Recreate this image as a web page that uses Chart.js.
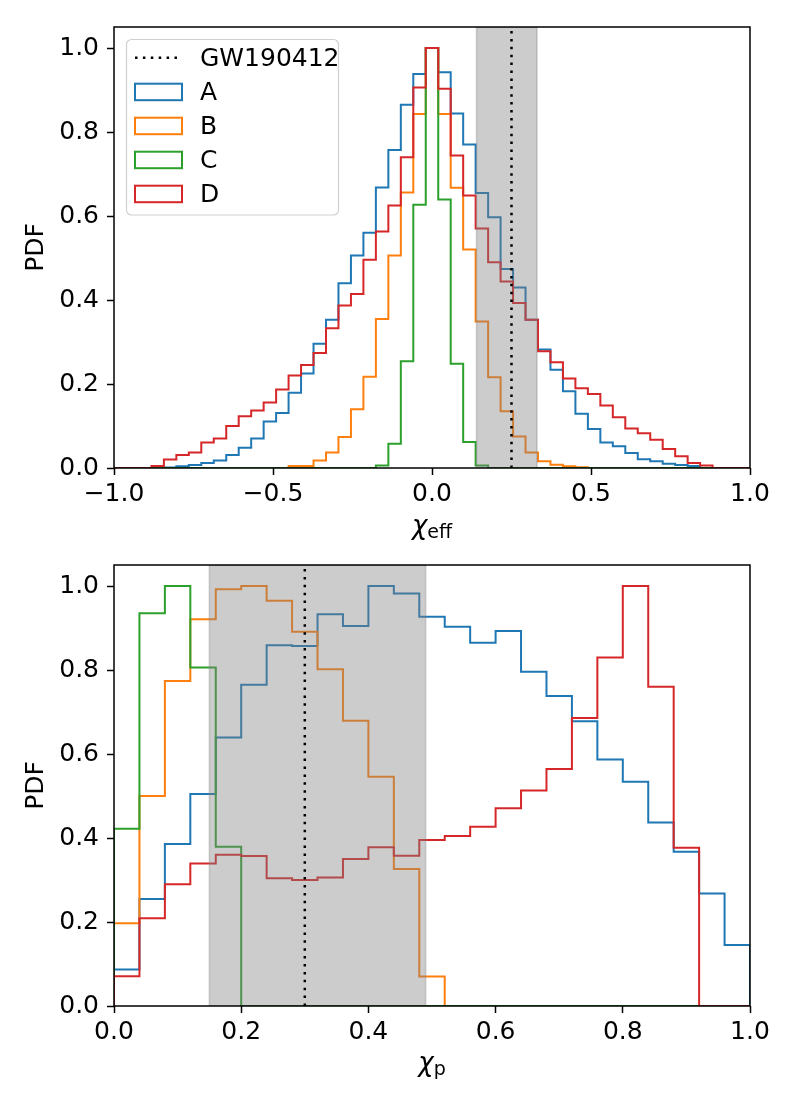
<!DOCTYPE html>
<html>
<head>
<meta charset="utf-8">
<script src="https://cdn.jsdelivr.net/npm/chart.js@4.4.1/dist/chart.umd.min.js"></script>
<style>
  html, body { margin: 0; padding: 0; background: #fff; }
  #wrap { position: relative; width: 798px; height: 1106px; }
  canvas { position: absolute; left: 0; }
  #top { top: 0; }
  #bottom { top: 540px; }
</style>
</head>
<body>
<div id="wrap">
  <canvas id="top" width="798" height="553"></canvas>
  <canvas id="bottom" width="798" height="566"></canvas>
</div>
<script>
// series
const seriesNames = ['A', 'B', 'C', 'D'];
const seriesColors = ['#1f77b4', '#ff7f0e', '#2ca02c', '#d62728'];

// chi_eff histogram: 51 bins over [-1, 1]
const chiEffRange = [-1, 1];
const chiEffA = [0, 0, 0,
  0, 0.001, 0.004, 0.007, 0.012, 0.018, 0.031, 0.048, 0.07, 0.111, 0.131, 0.179, 0.225, 0.296, 0.353,
  0.44, 0.506, 0.56, 0.668, 0.757, 0.865, 0.938, 1.0, 0.942, 0.844, 0.77, 0.655, 0.597, 0.474, 0.43,
  0.353, 0.282, 0.234, 0.183, 0.129, 0.093, 0.061, 0.052, 0.036, 0.021, 0.016, 0.01, 0.007, 0.005, 0,
  0, 0, 0];
const chiEffB = [0, 0, 0,
  0, 0, 0, 0, 0, 0, 0, 0, 0, 0, 0, 0.005, 0.005, 0.018, 0.037,
  0.074, 0.14, 0.217, 0.355, 0.506, 0.656, 0.843, 1.0, 0.843, 0.667, 0.52, 0.349, 0.216, 0.135, 0.075,
  0.037, 0.016, 0.008, 0.004, 0.002, 0, 0, 0, 0, 0, 0, 0, 0, 0, 0,
  0, 0, 0];
const chiEffC = [0, 0, 0,
  0, 0, 0, 0, 0, 0, 0, 0, 0, 0, 0, 0, 0, 0, 0,
  0, 0, 0, 0.006, 0.058, 0.254, 0.627, 1.0, 0.639, 0.248, 0.062, 0.006, 0, 0, 0,
  0, 0, 0, 0, 0, 0, 0, 0, 0, 0, 0, 0, 0, 0, 0,
  0, 0, 0];
const chiEffD = [0, 0, 0,
  0.005, 0.02, 0.031, 0.037, 0.061, 0.07, 0.10, 0.123, 0.137, 0.156, 0.187, 0.22, 0.245, 0.274, 0.333,
  0.387, 0.414, 0.496, 0.563, 0.625, 0.74, 0.906, 1.0, 0.903, 0.744, 0.649, 0.57, 0.49, 0.444, 0.393,
  0.353, 0.278, 0.252, 0.213, 0.19, 0.176, 0.149, 0.121, 0.094, 0.083, 0.067, 0.045, 0.028, 0.012, 0.006,
  0, 0, 0];
const chiEffTicks = [-1, -0.5, 0, 0.5, 1];
// GW190412: lower, median, upper
const gwChiEff = [0.14, 0.25, 0.33];

// chi_p histogram: 25 bins over [0, 1]
const chiPRange = [0, 1];
const chiPA = [0.087, 0.255, 0.386, 0.505, 0.639, 0.765, 0.859, 0.857, 0.933, 0.905, 1.0, 0.982, 0.927,
  0.903, 0.865, 0.893, 0.796, 0.738, 0.678, 0.587, 0.534, 0.437, 0.367, 0.268, 0.145];
const chiPB = [0.197, 0.5, 0.774, 0.921, 0.992, 1.0, 0.965, 0.891, 0.802, 0.679, 0.546, 0.326, 0.07,
  0, 0, 0, 0, 0, 0, 0, 0, 0, 0, 0, 0];
const chiPC = [0.422, 0.935, 1.0, 0.806, 0.379, 0, 0, 0, 0, 0, 0, 0, 0,
  0, 0, 0, 0, 0, 0, 0, 0, 0, 0, 0, 0];
const chiPD = [0.071, 0.209, 0.29, 0.339, 0.36, 0.357, 0.304, 0.3, 0.306, 0.35, 0.378, 0.358, 0.395,
  0.405, 0.427, 0.471, 0.513, 0.564, 0.686, 0.83, 1.0, 0.76, 0.377, 0, 0];
const chiPTicks = [0, 0.2, 0.4, 0.6, 0.8, 1];
const gwChiP = [0.15, 0.30, 0.49];

const pdfTicks = [0, 0.2, 0.4, 0.6, 0.8, 1];
const pdfMax = 1.05;

Chart.defaults.font.family = '"DejaVu Sans", sans-serif';
Chart.defaults.font.size = 25;
Chart.defaults.color = '#000';

// step outline like histtype='step'
function histOutline(values, range) {
  const n = values.length;
  const w = (range[1] - range[0]) / n;
  const pts = [{ x: range[0], y: 0 }];
  values.forEach((v, i) => {
    pts.push({ x: range[0] + i * w, y: v });
    pts.push({ x: range[0] + (i + 1) * w, y: v });
  });
  pts.push({ x: range[1], y: 0 });
  return pts;
}

function fmt(v) {
  return v.toFixed(1).replace('-', '\u2212');
}

// frame, axis labels and legend
const decorPlugin = {
  id: 'decor',
  afterDatasetsDraw(chart, args, o) {
    const { ctx, chartArea: a } = chart;
    ctx.save();
    ctx.strokeStyle = '#000';
    ctx.lineWidth = 1.5;
    ctx.strokeRect(a.left, a.top, a.right - a.left, a.bottom - a.top);

    // x label: chi with subscript
    ctx.fillStyle = '#000';
    ctx.textBaseline = 'alphabetic';
    ctx.textAlign = 'left';
    const bigFont = 'italic 26px "DejaVu Sans"';
    const subFont = '19px "DejaVu Sans"';
    ctx.font = bigFont;
    const w1 = ctx.measureText('\u03c7').width;
    ctx.font = subFont;
    const w2 = ctx.measureText(o.sub).width;
    const x0 = (a.left + a.right) / 2 - (w1 + w2) / 2;
    ctx.font = bigFont;
    ctx.fillText('\u03c7', x0, a.bottom + o.labelDy);
    ctx.font = subFont;
    ctx.fillText(o.sub, x0 + w1, a.bottom + o.labelDy + 4);

    // y label
    ctx.save();
    ctx.translate(43, (a.top + a.bottom) / 2);
    ctx.rotate(-Math.PI / 2);
    ctx.textAlign = 'center';
    ctx.font = '25px "DejaVu Sans"';
    ctx.fillText('PDF', 0, 0);
    ctx.restore();

    if (o.legend) {
      const bx = 126.5, by = 39.5, bw = 212, bh = 175.5;
      ctx.beginPath();
      ctx.roundRect(bx, by, bw, bh, 5);
      ctx.fillStyle = 'rgba(255,255,255,0.8)';
      ctx.fill();
      ctx.strokeStyle = '#d0d0d0';
      ctx.lineWidth = 1.2;
      ctx.stroke();

      ctx.font = '25px "DejaVu Sans"';
      ctx.fillStyle = '#000';
      const labels = ['GW190412'].concat(seriesNames);
      labels.forEach((lab, i) => {
        const base = 66.3 + i * 34;
        const cy = base - 8.6;
        if (i === 0) {
          ctx.save();
          ctx.strokeStyle = '#000';
          ctx.lineWidth = 2.5;
          ctx.setLineDash([2.5, 5.4]);
          ctx.beginPath();
          ctx.moveTo(135, cy);
          ctx.lineTo(182, cy);
          ctx.stroke();
          ctx.restore();
        } else {
          ctx.strokeStyle = seriesColors[i - 1];
          ctx.lineWidth = 2;
          ctx.strokeRect(135, cy - 8, 47, 16.5);
        }
        ctx.fillStyle = '#000';
        ctx.fillText(lab, 200, base);
      });
    }
    ctx.restore();
  }
};

function makeChart(id, range, series, ticks, gw, padTop, xHeight, sub, labelDy, legend) {
  const datasets = series.map((vals, i) => ({
    label: seriesNames[i],
    data: histOutline(vals, range),
    borderColor: seriesColors[i],
    borderWidth: 2,
    pointRadius: 0,
    fill: false,
    tension: 0,
    order: 5 - i
  }));
  datasets.push({
    label: 'band',
    data: [{ x: gw[0], y: 0 }, { x: gw[0], y: pdfMax }, { x: gw[2], y: pdfMax }, { x: gw[2], y: 0 }],
    borderColor: 'rgba(128,128,128,0.4)',
    backgroundColor: 'rgba(128,128,128,0.4)',
    borderWidth: 1.5,
    pointRadius: 0,
    fill: 'origin',
    order: 1
  });
  datasets.push({
    label: 'GW190412',
    data: [{ x: gw[1], y: 0 }, { x: gw[1], y: pdfMax }],
    borderColor: '#000',
    borderWidth: 2.5,
    borderDash: [2.5, 5.4],
    pointRadius: 0,
    fill: false,
    order: 0
  });

  return new Chart(document.getElementById(id), {
    type: 'line',
    data: { datasets },
    plugins: [decorPlugin],
    options: {
      responsive: false,
      animation: false,
      events: [],
      layout: { padding: { left: 0, right: 48, top: padTop, bottom: 0 } },
      plugins: {
        legend: { display: false },
        tooltip: { enabled: false },
        decor: { sub, labelDy, legend }
      },
      scales: {
        x: {
          type: 'linear',
          min: range[0],
          max: range[1],
          afterBuildTicks: s => { s.ticks = ticks.map(v => ({ value: v })); },
          afterFit: s => { s.height = xHeight; },
          ticks: { callback: v => fmt(v), padding: 4, maxRotation: 0, autoSkip: false },
          grid: { drawOnChartArea: false, drawTicks: true, tickLength: 7, tickWidth: 1.5, tickColor: '#000' },
          border: { display: false }
        },
        y: {
          type: 'linear',
          min: 0,
          max: pdfMax,
          afterBuildTicks: s => { s.ticks = pdfTicks.map(v => ({ value: v })); },
          afterFit: s => { s.width = 114; },
          ticks: { callback: v => fmt(v), padding: 8 },
          grid: { drawOnChartArea: false, drawTicks: true, tickLength: 7, tickWidth: 1.5, tickColor: '#000' },
          border: { display: false }
        }
      }
    }
  });
}

makeChart('top', chiEffRange, [chiEffA, chiEffB, chiEffC, chiEffD], chiEffTicks, gwChiEff,
  27, 85, 'eff', 66, true);
makeChart('bottom', chiPRange, [chiPA, chiPB, chiPC, chiPD], chiPTicks, gwChiP,
  25, 100, 'p', 65, false);
</script>
</body>
</html>
